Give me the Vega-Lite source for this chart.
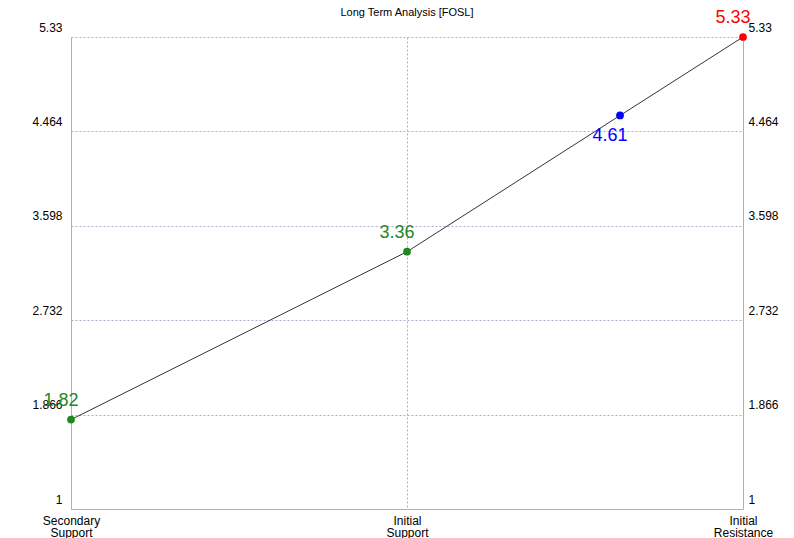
{
  "$schema": "https://vega.github.io/schema/vega-lite/v6.json",
  "width": 672,
  "height": 472,
  "autosize": {"type": "none"},
  "padding": {"left": 71, "top": 37, "right": 51, "bottom": 29},
  "background": "white",
  "config": {"font": "Liberation Sans", "view": {"stroke": null}},
  "title": {"text": "Long Term Analysis [FOSL]", "fontSize": 11, "fontWeight": "normal", "color": "#000000", "anchor": "middle", "offset": -9},
  "data": {"values": [
    {"pos": 0, "value": 1.82, "label": "1.82", "kind": "support"},
    {"pos": 1, "value": 3.36, "label": "3.36", "kind": "support"},
    {"pos": 1.634, "value": 4.61, "label": "4.61", "kind": "current"},
    {"pos": 2, "value": 5.33, "label": "5.33", "kind": "resistance"}
  ]},
  "encoding": {
    "x": {"field": "pos", "type": "quantitative", "scale": {"domain": [0, 2], "nice": false, "zero": false},
      "axis": {"title": null, "values": [0, 1, 2], "ticks": false, "labelPadding": 6, "labelBaseline": "top", "labelFontSize": 12, "labelColor": "#000000", "labelLineHeight": 12,
        "labelExpr": "datum.value == 0 ? ['Secondary','Support'] : datum.value == 1 ? ['Initial','Support'] : ['Initial','Resistance']",
        "grid": true, "gridColor": "#a8b0d0", "gridDash": [2, 2], "gridWidth": 1, "domainColor": "#a8b0c8", "domainWidth": 1, "labelFlush": false}}
  },
  "layer": [
    {
      "mark": {"type": "line", "color": "#000000", "strokeWidth": 0.8},
      "encoding": {
        "y": {"field": "value", "type": "quantitative", "scale": {"domain": [1, 5.33], "nice": false, "zero": false},
          "axis": {"orient": "left", "title": null, "values": [1, 1.866, 2.732, 3.598, 4.464, 5.33], "format": ".4~g", "ticks": false, "labelPadding": 9, "labelBaseline": "alphabetic", "labelOffset": -6, "labelFontSize": 12, "labelColor": "#000000", "labelFlush": false,
            "grid": true, "gridColor": "#a8b0d0", "gridDash": [2, 2], "gridWidth": 1, "domainColor": "#a8b0c8", "domainWidth": 1}},
        "order": {"field": "pos"}
      }
    },
    {
      "mark": {"type": "point", "filled": true, "size": 60, "opacity": 1},
      "encoding": {
        "y": {"field": "value", "type": "quantitative",
          "axis": {"orient": "right", "title": null, "values": [1, 1.866, 2.732, 3.598, 4.464, 5.33], "format": ".4~g", "ticks": false, "labelPadding": 5, "labelBaseline": "alphabetic", "labelOffset": -6, "labelFontSize": 12, "labelColor": "#000000", "labelFlush": false,
            "grid": false, "domainColor": "#a8b0c8", "domainWidth": 1}},
        "color": {"field": "kind", "type": "nominal", "scale": {"domain": ["support", "current", "resistance"], "range": ["#1e8a1e", "#0000ff", "#ff0000"]}, "legend": null}
      }
    },
    {
      "transform": [{"filter": "datum.kind != 'current'"}],
      "mark": {"type": "text", "fontSize": 18, "dx": -10, "dy": -19, "baseline": "middle", "align": "center"},
      "encoding": {
        "y": {"field": "value", "type": "quantitative", "axis": null},
        "text": {"field": "label"},
        "color": {"field": "kind", "type": "nominal", "legend": null}
      }
    },
    {
      "transform": [{"filter": "datum.kind == 'current'"}],
      "mark": {"type": "text", "fontSize": 18, "dx": -10, "dy": 21, "baseline": "middle", "align": "center"},
      "encoding": {
        "y": {"field": "value", "type": "quantitative", "axis": null},
        "text": {"field": "label"},
        "color": {"field": "kind", "type": "nominal", "legend": null}
      }
    }
  ],
  "resolve": {"axis": {"y": "independent"}}
}
